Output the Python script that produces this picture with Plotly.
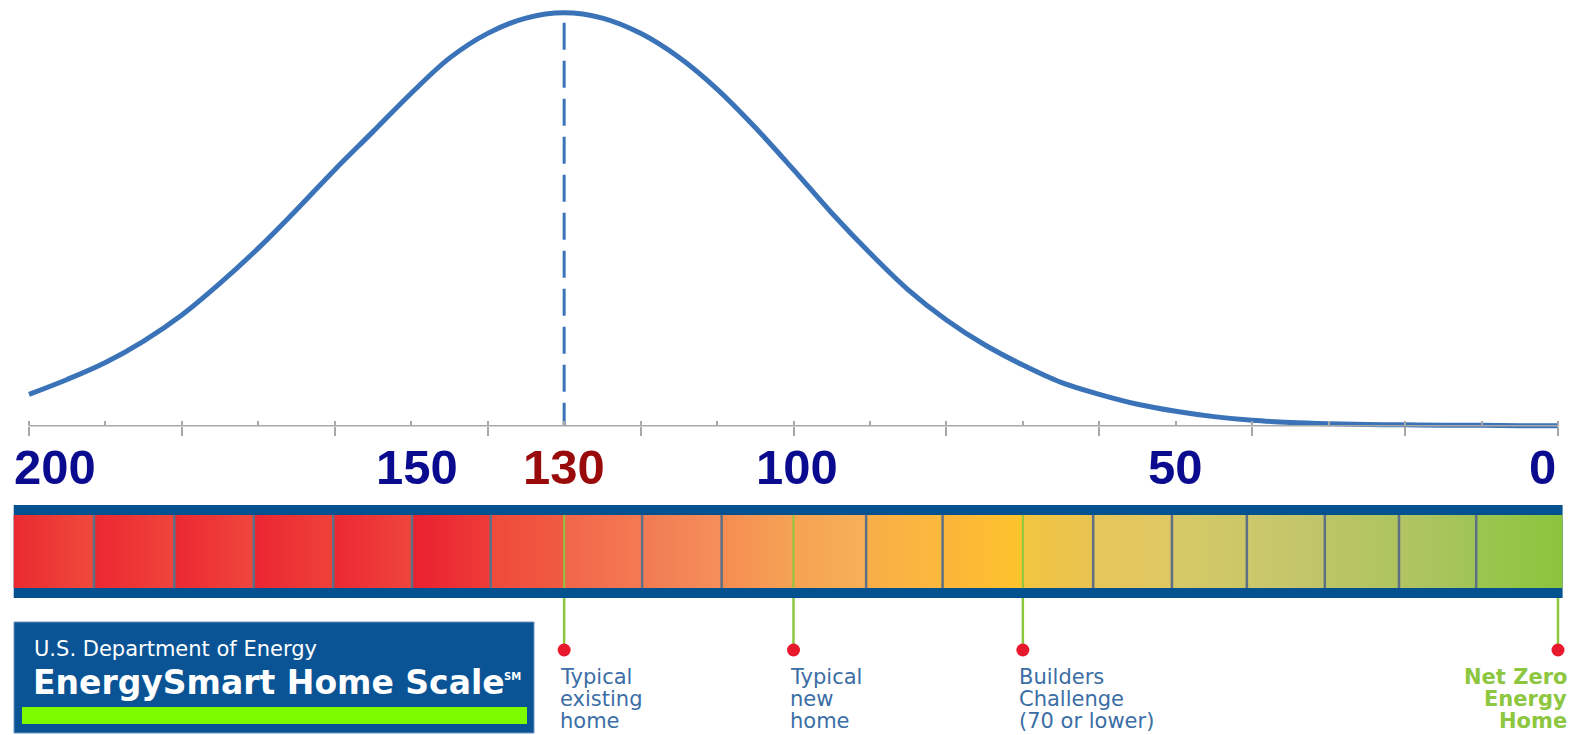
import plotly.graph_objects as go

# ---------------- data ----------------
SCORES = [200, 195, 190, 185, 180, 175, 170, 165, 160, 155, 150, 145, 140, 135, 130,
          125, 120, 115, 110, 105, 100, 95, 90, 85, 80, 75, 70, 65, 60, 55, 50,
          45, 40, 35, 30, 25, 20, 15, 10, 5, 0]
DENSITY = [0.076, 0.112, 0.153, 0.205, 0.268, 0.345, 0.430, 0.523, 0.620, 0.712, 0.805,
           0.890, 0.950, 0.987, 1.000, 0.987, 0.950, 0.892, 0.815, 0.722, 0.620, 0.515,
           0.418, 0.329, 0.256, 0.196, 0.147, 0.105, 0.076, 0.052, 0.035, 0.022, 0.013,
           0.008, 0.005, 0.003, 0.002, 0.001, 0.001, 0.0, 0.0]
PEAK_SCORE = 130

AXIS_MAJOR = [200, 180, 160, 140, 120, 100, 80, 60, 40, 20, 0]
AXIS_MINOR = [200, 190, 180, 170, 160, 150, 140, 130, 120, 110, 100, 90, 80, 70, 60, 50, 40, 30, 20, 10, 0]

LABEL_SCORES = [200, 150, 130, 100, 50, 0]
LABEL_TEXT = ["200", "150", "130", "100", "50", "0"]
LABEL_COLORS = ["#0b0b8f", "#0b0b8f", "#990b0b", "#0b0b8f", "#0b0b8f", "#0b0b8f"]

SEGMENT_EDGES = [202, 191.5, 181, 170.6, 160.2, 149.9, 139.6, 130, 119.8, 109.4, 100,
                 90.5, 80.5, 70, 60.8, 50.5, 40.7, 30.5, 20.8, 10.7, -0.6]
SEGMENT_LEFT = ["#ea2a30", "#ec2731", "#ec2832", "#eb2532", "#ec2833", "#ea2030", "#ef4a3b",
                "#f0664a", "#f07a52", "#f58c52", "#f6a252", "#f8ae48", "#fbb43a", "#f2c540",
                "#e6c65a", "#d6c967", "#ccc86c", "#bdc565", "#b2c463", "#9cc650"]
SEGMENT_RIGHT = ["#ef4a3c", "#ef453b", "#ef473c", "#ee4239", "#ef453c", "#ee3c38", "#f05b42",
                 "#f47a52", "#f58f5a", "#f5a355", "#f6b058", "#fbb93c", "#fdc42c", "#e9c452",
                 "#dfc862", "#ccc766", "#c0c46a", "#adc55e", "#a0c456", "#8bc43d"]

MILESTONE_SCORES = [130, 100, 70, 0]
MILESTONE_LINES = [["Typical", "existing", "home"],
                   ["Typical", "new", "home"],
                   ["Builders", "Challenge", "(70 or lower)"],
                   ["Net Zero", "Energy", "Home"]]

# ---------------- layout geometry ----------------
W, H = 1580, 735
X200_PX = 29.0
PX_PER_SCORE = 7.645
Y0_PX = 425.7
PX_PER_UNIT = 413.0

x_range = [200 + X200_PX / PX_PER_SCORE, 200 - (W - X200_PX) / PX_PER_SCORE]
y_range = [(Y0_PX - H) / PX_PER_UNIT, Y0_PX / PX_PER_UNIT]
axis_pos = (0 - y_range[0]) / (y_range[1] - y_range[0])


def yv(px):
    return (Y0_PX - px) / PX_PER_UNIT


def px_paper_x(px):
    return px / W


def px_paper_y(px):
    return 1 - px / H


BLUE_CURVE = "#3b73b9"
BAND = "#03528f"
SEP = "#5f6f86"
GREEN = "#8dc63f"
RED = "#e8192c"
CAPTION = "#3b6ea5"

fig = go.Figure()

# baseline of the score axis
fig.add_trace(go.Scatter(x=[AXIS_MAJOR[0], AXIS_MAJOR[-1]], y=[0, 0], mode="lines",
                         line=dict(color="#a8a8a8", width=1.5), xaxis="x2", yaxis="y",
                         hoverinfo="skip", showlegend=False))

# dashed peak line
peak_val = max(DENSITY)
fig.add_trace(go.Scatter(x=[PEAK_SCORE, PEAK_SCORE], y=[peak_val - 10 / PX_PER_UNIT, 0],
                         mode="lines", line=dict(color=BLUE_CURVE, width=3, dash="27px,11px"),
                         hoverinfo="skip", showlegend=False))

# distribution curve
fig.add_trace(go.Scatter(x=SCORES, y=DENSITY, mode="lines",
                         line=dict(color=BLUE_CURVE, width=5, shape="spline", smoothing=1.0),
                         hoverinfo="skip", showlegend=False))

# colour scale bar: dark band
e0, e1 = SEGMENT_EDGES[0], SEGMENT_EDGES[-1]
bt, bb = yv(505), yv(598)
fig.add_trace(go.Scatter(x=[e0, e1, e1, e0, e0], y=[bt, bt, bb, bb, bt], mode="lines",
                         fill="toself", fillcolor=BAND, line=dict(width=0),
                         hoverinfo="skip", showlegend=False))

ct, cb = yv(515), yv(588)
for k in range(len(SEGMENT_LEFT)):
    a, b = SEGMENT_EDGES[k], SEGMENT_EDGES[k + 1]
    fig.add_trace(go.Scatter(x=[a, b, b, a, a], y=[ct, ct, cb, cb, ct], mode="lines",
                             fill="toself",
                             fillgradient=dict(type="horizontal",
                                               colorscale=[[0, SEGMENT_LEFT[k]], [1, SEGMENT_RIGHT[k]]]),
                             line=dict(width=0), hoverinfo="skip", showlegend=False))

# separators
sx, sy, gx, gy = [], [], [], []
for b in SEGMENT_EDGES[1:-1]:
    if b in MILESTONE_SCORES:
        gx += [b, b, None]
        gy += [ct, cb, None]
    else:
        sx += [b, b, None]
        sy += [ct, cb, None]
fig.add_trace(go.Scatter(x=sx, y=sy, mode="lines", line=dict(color=SEP, width=2.5),
                         hoverinfo="skip", showlegend=False))
fig.add_trace(go.Scatter(x=gx, y=gy, mode="lines", line=dict(color=GREEN, width=2),
                         hoverinfo="skip", showlegend=False))

# milestone stems and dots
stx, sty = [], []
for m in MILESTONE_SCORES:
    stx += [m, m, None]
    sty += [bb, yv(650), None]
fig.add_trace(go.Scatter(x=stx, y=sty, mode="lines", line=dict(color=GREEN, width=2.5),
                         hoverinfo="skip", showlegend=False))
fig.add_trace(go.Scatter(x=MILESTONE_SCORES, y=[yv(650)] * len(MILESTONE_SCORES), mode="markers",
                         marker=dict(color=RED, size=13, line=dict(width=0)), cliponaxis=False,
                         hoverinfo="skip", showlegend=False))

annotations = []
# big score labels
LABEL_SHIFT = {200: ("left", -17), 150: ("center", 6), 100: ("center", 3), 0: ("right", 0)}
for s, t, c in zip(LABEL_SCORES, LABEL_TEXT, LABEL_COLORS):
    anc, sh = LABEL_SHIFT.get(s, ("center", 0))
    annotations.append(dict(x=s, y=yv(466.5), xref="x", yref="y", text=t, showarrow=False,
                            xanchor=anc, yanchor="middle", xshift=sh,
                            font=dict(family="Liberation Sans, Arial", size=49, color=c, weight="bold")))

# milestone captions
line_centres = [676.5, 699.0, 721.0]
for i, (m, lines) in enumerate(zip(MILESTONE_SCORES, MILESTONE_LINES)):
    last = i == len(MILESTONE_SCORES) - 1
    for j, ln in enumerate(lines):
        annotations.append(dict(x=m, y=yv(line_centres[j]), xref="x", yref="y", text=ln,
                                showarrow=False, borderpad=0,
                                xanchor="right" if last else "left",
                                xshift=10 if last else -5, yanchor="middle",
                                font=dict(family="DejaVu Sans, Verdana", size=21,
                                          color=GREEN if last else CAPTION,
                                          weight="bold" if last else "normal")))

# logo texts
annotations.append(dict(x=px_paper_x(32), y=px_paper_y(649), xref="paper", yref="paper",
                        text="U.S. Department of Energy", showarrow=False, xanchor="left",
                        yanchor="middle", font=dict(family="DejaVu Sans, Verdana", size=21, color="white")))
annotations.append(dict(x=px_paper_x(31), y=px_paper_y(682), xref="paper", yref="paper",
                        text="EnergySmart Home Scale", showarrow=False, xanchor="left",
                        yanchor="middle", font=dict(family="DejaVu Sans, Verdana", size=33,
                                                    color="white", weight="bold")))
annotations.append(dict(x=px_paper_x(502), y=px_paper_y(676), xref="paper", yref="paper",
                        text="SM", showarrow=False, xanchor="left", yanchor="middle",
                        font=dict(family="DejaVu Sans, Verdana", size=10, color="white", weight="bold")))

shapes = [
    dict(type="rect", xref="paper", yref="paper", x0=px_paper_x(14), x1=px_paper_x(534),
         y0=px_paper_y(733), y1=px_paper_y(622), fillcolor="#0a5496",
         line=dict(color="#6f93bf", width=1), layer="above"),
    dict(type="rect", xref="paper", yref="paper", x0=px_paper_x(22), x1=px_paper_x(527),
         y0=px_paper_y(724), y1=px_paper_y(707), fillcolor="#7dfc00",
         line=dict(width=0), layer="above"),
]

fig.update_layout(
    width=W, height=H, margin=dict(l=0, r=0, t=0, b=0),
    paper_bgcolor="white", plot_bgcolor="white", showlegend=False,
    xaxis=dict(range=x_range, showgrid=False, zeroline=False, showline=False,
               tickmode="array", tickvals=AXIS_MAJOR, ticks="outside", ticklen=9,
               tickwidth=1.5, tickcolor="#a8a8a8", showticklabels=False,
               anchor="free", position=axis_pos, fixedrange=True),
    xaxis2=dict(range=x_range, overlaying="x", showgrid=False, zeroline=False, showline=False,
                tickmode="array", tickvals=AXIS_MINOR, ticks="inside", ticklen=5,
                tickwidth=1.5, tickcolor="#a8a8a8", showticklabels=False,
                anchor="free", position=axis_pos, fixedrange=True),
    yaxis=dict(range=y_range, visible=False, fixedrange=True),
    annotations=annotations, shapes=shapes,
)

fig.write_html("out.html", config={"displayModeBar": False},
               post_script="document.body.style.margin='0';document.body.style.overflow='hidden';")
